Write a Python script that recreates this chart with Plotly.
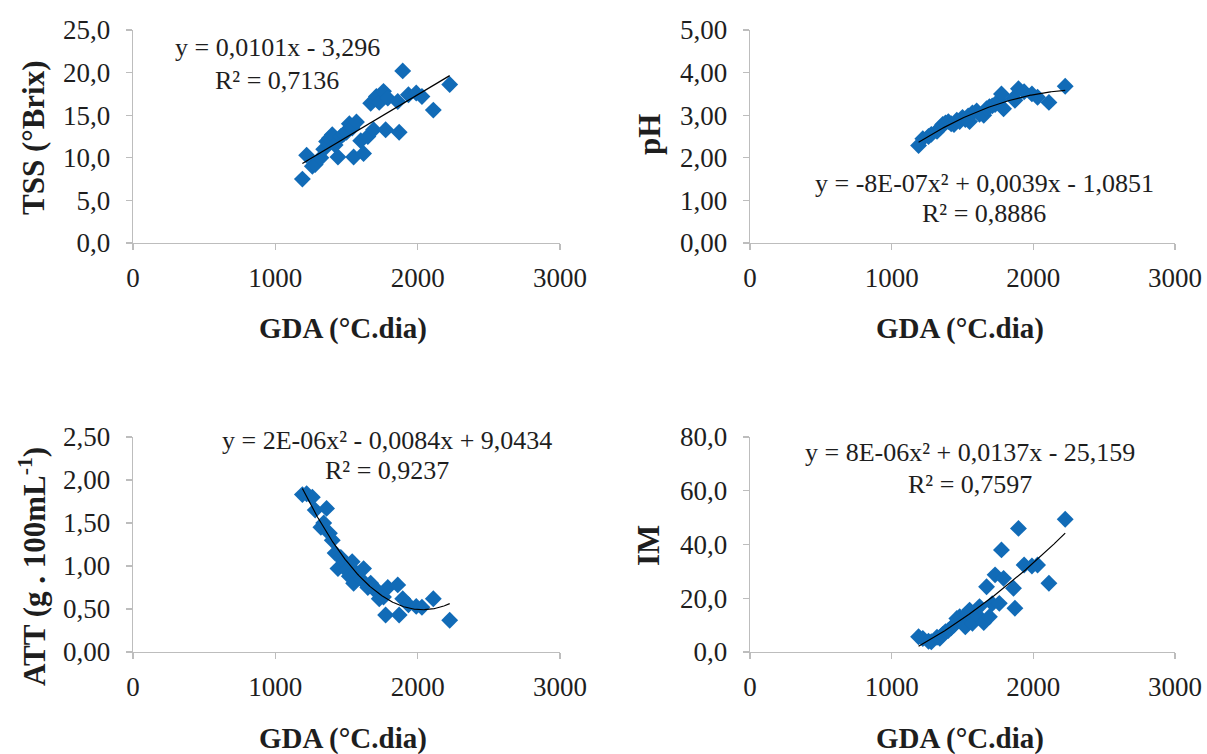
import numpy as np
import plotly.graph_objects as go

# ---- data ----
gda = [1190, 1220, 1260, 1280, 1320, 1340, 1360, 1380, 1400, 1420, 1440, 1460,
       1480, 1500, 1520, 1540, 1550, 1570, 1600, 1620, 1650, 1670, 1690, 1710,
       1730, 1760, 1775, 1790, 1860, 1870, 1895, 1935, 1990, 2030, 2110, 2225]
tss = [7.5, 10.3, 9.0, 9.2, 10.0, 11.0, 11.9, 12.3, 12.7, 11.5, 10.1, 12.5,
       12.8, 13.0, 14.0, 13.5, 10.1, 14.2, 12.0, 10.5, 12.5, 16.4, 13.3, 17.2,
       16.5, 17.8, 13.3, 17.0, 16.6, 13.0, 20.2, 17.4, 17.6, 17.2, 15.6, 18.6]
ph = [2.29, 2.45, 2.50, 2.55, 2.62, 2.70, 2.78, 2.82, 2.85, 2.80, 2.78, 2.88,
      2.85, 2.95, 2.90, 2.98, 2.85, 3.05, 3.10, 3.02, 3.00, 3.15, 3.20, 3.22,
      3.25, 3.35, 3.50, 3.15, 3.40, 3.35, 3.62, 3.55, 3.50, 3.42, 3.30, 3.68]
att = [1.83, 1.84, 1.80, 1.65, 1.45, 1.50, 1.67, 1.38, 1.30, 1.15, 0.97, 1.10,
       1.05, 0.95, 0.88, 1.05, 0.80, 0.92, 0.85, 0.97, 0.75, 0.80, 0.76, 0.70,
       0.62, 0.64, 0.43, 0.75, 0.78, 0.43, 0.62, 0.55, 0.53, 0.52, 0.62, 0.37]
im = [5.7, 5.0, 4.0, 3.8, 5.5, 5.1, 6.5, 7.6, 8.0, 9.0, 10.0, 12.5,
      13.1, 11.0, 9.4, 14.5, 15.6, 10.7, 14.0, 16.9, 11.0, 24.3, 13.1, 18.0,
      28.7, 18.1, 38.0, 27.4, 23.7, 16.3, 46.0, 32.4, 32.0, 32.4, 25.6, 49.4]

x_ticks = [0, 1000, 2000, 3000]
x_title = "GDA (°C.dia)"
panels = [
    dict(y=tss, deg=1, title="TSS (°Brix)", ymax=25, dtick=5, fmt="{:.1f}",
         eq="y = 0,0101x - 3,296", r2="R² = 0,7136", eqx=1012, eqy=23.0, r2y=19.1),
    dict(y=ph, deg=2, title="pH", ymax=5, dtick=1, fmt="{:.2f}",
         eq="y = -8E-07x² + 0,0039x - 1,0851", r2="R² = 0,8886", eqx=1652, eqy=1.40, r2y=0.70),
    dict(y=att, deg=2, title="ATT (g . 100mL<sup>-1</sup>)", ymax=2.5, dtick=0.5, fmt="{:.2f}",
         eq="y = 2E-06x² - 0,0084x + 9,0434", r2="R² = 0,9237", eqx=1785, eqy=2.465, r2y=2.116),
    dict(y=im, deg=2, title="IM", ymax=80, dtick=20, fmt="{:.1f}",
         eq="y = 8E-06x² + 0,0137x - 25,159", r2="R² = 0,7597", eqx=1553, eqy=74.4, r2y=62.5),
]

W, H = 1207, 754
xdoms = [[133 / W, 560 / W], [750 / W, 1175 / W], [133 / W, 560 / W], [750 / W, 1175 / W]]
ydoms = [[1 - 243 / H, 1 - 30 / H], [1 - 243 / H, 1 - 30 / H],
         [1 - 652 / H, 1 - 437 / H], [1 - 652 / H, 1 - 437 / H]]
ytitle_pos = [(33, 138), (650, 135), (32, 567), (648, 546)]
xtitle_pos = [(343, 328), (960, 328), (343, 738), (960, 738)]

FONT = "Liberation Serif, Times New Roman, serif"
BLUE = "#116BB7"
AXC = "#bdbdbd"
TXT = "#1e1e1e"

fig = go.Figure()
annotations = []
for i, p in enumerate(panels):
    n = i + 1
    xa = "x" if n == 1 else f"x{n}"
    ya = "y" if n == 1 else f"y{n}"
    fig.add_trace(go.Scatter(
        x=gda, y=p["y"], mode="markers", xaxis=xa, yaxis=ya,
        marker=dict(symbol="diamond", size=13, color=BLUE, line=dict(width=0)),
        showlegend=False, cliponaxis=False))
    coef = np.polyfit(gda, p["y"], p["deg"])
    xs = np.linspace(min(gda), max(gda), 200)
    fig.add_trace(go.Scatter(
        x=xs, y=np.polyval(coef, xs), mode="lines", xaxis=xa, yaxis=ya,
        line=dict(color="black", width=1.2), showlegend=False, cliponaxis=False))

    yticks = list(np.arange(0, p["ymax"] + p["dtick"] / 2, p["dtick"]))
    ytext = [p["fmt"].format(v).replace(".", ",") for v in yticks]
    xkey = "xaxis" if n == 1 else f"xaxis{n}"
    ykey = "yaxis" if n == 1 else f"yaxis{n}"
    fig.update_layout(**{
        xkey: dict(domain=xdoms[i], anchor=ya, range=[0, 3000], tickvals=x_ticks,
                   ticktext=[str(v) for v in x_ticks], showgrid=False, zeroline=False,
                   automargin=False,
                   showline=True, linecolor=AXC, linewidth=1.3, ticks="outside",
                   ticklen=6, tickcolor=AXC, tickwidth=1.3, ticklabelstandoff=4,
                   tickfont=dict(family=FONT, size=27, color=TXT)),
        ykey: dict(domain=ydoms[i], anchor=xa, range=[0, p["ymax"]], tickvals=yticks,
                   ticktext=ytext, showgrid=False, zeroline=False,
                   automargin=False,
                   showline=True, linecolor=AXC, linewidth=1.3, ticks="outside",
                   ticklen=6, tickcolor=AXC, tickwidth=1.3, ticklabelstandoff=10,
                   tickfont=dict(family=FONT, size=27, color=TXT)),
    })
    for txt, yy in ((p["eq"], p["eqy"]), (p["r2"], p["r2y"])):
        annotations.append(dict(xref=xa, yref=ya, x=p["eqx"], y=yy, text=txt,
                                xanchor="center", yanchor="middle", showarrow=False,
                                font=dict(family=FONT, size=26, color=TXT)))
    tx, ty = ytitle_pos[i]
    annotations.append(dict(xref="paper", yref="paper", x=tx / W, y=1 - ty / H,
                            xanchor="center", yanchor="middle",
                            text="<b>" + p["title"] + "</b>", textangle=-90, showarrow=False,
                            font=dict(family=FONT, size=31, color=TXT)))
    gx, gy = xtitle_pos[i]
    annotations.append(dict(xref="paper", yref="paper", x=gx / W, y=1 - gy / H,
                            xanchor="center", yanchor="middle",
                            text="<b>" + x_title + "</b>", showarrow=False,
                            font=dict(family=FONT, size=29, color=TXT)))

fig.update_layout(width=W, height=H, margin=dict(l=0, r=0, t=0, b=0, autoexpand=False),
                  paper_bgcolor="white", plot_bgcolor="white",
                  annotations=annotations, hovermode=False)
fig.write_html("out.html", config={"displayModeBar": False, "staticPlot": True},
               post_script="document.body.style.margin='0';document.body.style.overflow='hidden';")
